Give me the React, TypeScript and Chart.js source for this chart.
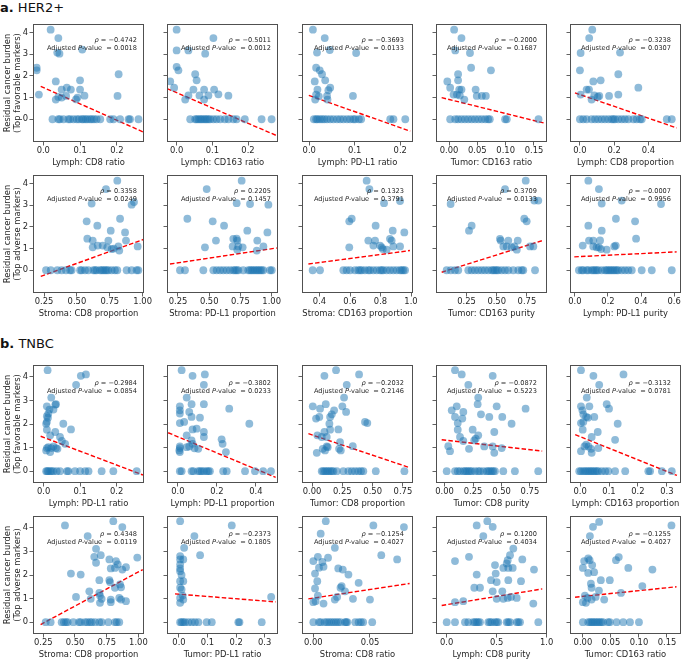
import React, { useEffect, useRef } from "react";
import { Chart, registerables } from "chart.js";

Chart.register(...registerables);

const FONT = "'DejaVu Sans', 'Liberation Sans', sans-serif";
const INK = "#262626";
const FRAME = "#505050";
const DOT = "rgba(31,119,180,0.5)";

// ---------- shared text ----------
const SECTION_A = ["a.", "HER2+"];
const SECTION_B = ["b.", "TNBC"];
const Y_TITLE_FAV = ["Residual cancer burden", "(Top favorable markers)"];
const Y_TITLE_ADV = ["Residual cancer burden", "(Top adverse markers)"];
const Y_TICKS = [0, 1, 2, 3, 4];
const ROW_Y_MIN = [-1.05, -1.05, -0.5, -0.5];
const ROW_Y_MAX = [4.4, 4.4, 4.5, 4.5];

// ---------- row 1 (HER2+, favorable) ----------
const r1c1X = [0.02, 0.041, 0.038, 0.044, 0.106, -0.018, -0.018, 0.034, 0.205, 0.1, -0.012, 0.05, 0.064, 0.075, 0.1, 0.034, 0.041, 0.062, 0.089, 0.093, 0.112, 0.202, 0.05];
const r1c1Y = [4.14, 3.75, 3.08, 3.03, 3.22, 2.38, 2.26, 1.75, 2.08, 1.8, 1.14, 1.37, 1.46, 1.37, 1.37, 0.91, 1.03, 1.08, 0.92, 1.0, 1.09, 1.08, 1.0];
const r1c1Zero = [0.025, 0.041, 0.045, 0.055, 0.068, 0.073, 0.082, 0.091, 0.097, 0.105, 0.109, 0.115, 0.12, 0.127, 0.132, 0.138, 0.145, 0.155, 0.182, 0.191, 0.209, 0.232, 0.236, 0.259];
const r1c1LineX = [-0.007, 0.271];
const r1c1LineY = [1.52, -0.58];
const r1c1Ticks = [0, 0.1, 0.2];
const r1c1TickLabels = ["0.0", "0.1", "0.2"];

const r1c2X = [0.0, 0.0, 0.033, 0.08, 0.103, 0.0, 0.005, 0.052, 0.056, -0.018, -0.007, 0.024, 0.033, 0.047, 0.064, 0.077, 0.089, 0.077, 0.105, 0.117, 0.145];
const r1c2Y = [4.14, 3.18, 3.18, 3.03, 3.75, 2.42, 2.26, 2.08, 1.8, 1.75, 1.46, 0.91, 1.1, 1.37, 1.1, 1.37, 1.1, 0.91, 1.37, 1.15, 1.09];
const r1c2Zero = [0.038, 0.052, 0.056, 0.061, 0.066, 0.07, 0.075, 0.08, 0.084, 0.089, 0.094, 0.103, 0.112, 0.122, 0.135, 0.145, 0.159, 0.168, 0.191, 0.238, 0.266];
const r1c2LineX = [-0.027, 0.278];
const r1c2LineY = [1.42, -0.74];
const r1c2Ticks = [0, 0.1, 0.2];
const r1c2TickLabels = ["0.0", "0.1", "0.2"];

const r1c3X = [0.008, 0.034, 0.017, 0.045, 0.103, 0.015, 0.023, 0.028, 0.035, 0.012, 0.018, 0.046, 0.042, 0.015, 0.021, 0.039, 0.013, 0.04, 0.096];
const r1c3Y = [4.14, 3.75, 3.08, 3.2, 3.06, 2.38, 2.26, 2.08, 1.8, 1.75, 1.37, 1.46, 1.34, 1.14, 1.06, 1.08, 0.91, 0.91, 1.08];
const r1c3Zero = [0.01, 0.015, 0.018, 0.023, 0.028, 0.033, 0.039, 0.046, 0.053, 0.061, 0.068, 0.075, 0.083, 0.09, 0.097, 0.101, 0.109, 0.114, 0.178, 0.185, 0.211];
const r1c3LineX = [-0.001, 0.222];
const r1c3LineY = [1.1, -0.55];
const r1c3Ticks = [0, 0.1, 0.2];
const r1c3TickLabels = ["0.0", "0.1", "0.2"];

const r1c4X = [0.009, 0.022, 0.011, 0.037, 0.039, 0.016, 0.016, -0.003, 0.002, 0.018, 0.022, 0.008, 0.014, 0.027, 0.019, 0.047, 0.049, 0.058, 0.065, 0.074];
const r1c4Y = [4.14, 3.75, 3.18, 3.06, 2.38, 2.08, 1.8, 1.75, 1.46, 1.37, 1.37, 1.14, 1.14, 0.91, 1.1, 1.37, 1.08, 1.08, 1.08, 2.26];
const r1c4Zero = [0.002, 0.011, 0.016, 0.022, 0.028, 0.034, 0.04, 0.046, 0.052, 0.058, 0.064, 0.069, 0.072, 0.099, 0.102, 0.158];
const r1c4LineX = [-0.013, 0.167];
const r1c4LineY = [1.0, -0.17];
const r1c4Ticks = [0, 0.05, 0.1, 0.15];
const r1c4TickLabels = ["0.00", "0.05", "0.10", "0.15"];

const r1c5X = [0.072, 0.054, 0.004, 0.234, 0.0, 0.078, 0.121, 0.224, 0.341, 0.004, 0.039, 0.053, 0.084, 0.104, 0.113, 0.068, 0.17, 0.224];
const r1c5Y = [4.14, 3.75, 3.06, 3.08, 2.26, 1.75, 1.8, 2.08, 1.46, 1.14, 1.37, 1.37, 1.1, 1.03, 1.08, 0.91, 1.08, 1.14];
const r1c5Zero = [0, 0.019, 0.039, 0.068, 0.088, 0.107, 0.127, 0.146, 0.166, 0.185, 0.195, 0.205, 0.224, 0.244, 0.263, 0.283, 0.312, 0.331, 0.351, 0.361, 0.507, 0.536];
const r1c5LineX = [-0.029, 0.565];
const r1c5LineY = [1.22, -0.4];
const r1c5Ticks = [0, 0.2, 0.4];
const r1c5TickLabels = ["0.0", "0.2", "0.4"];

// ---------- row 2 (HER2+, adverse) ----------
const r2c1X = [0.807, 0.721, 0.612, 0.934, 0.916, 0.574, 0.655, 0.828, 0.757, 0.866, 0.579, 0.62, 0.739, 0.873, 0.62, 0.658, 0.696, 0.731, 0.764, 0.815, 0.822, 0.962, 0.78];
const r2c1Y = [4.14, 3.75, 3.08, 3.15, 3.03, 2.26, 2.06, 2.38, 1.83, 1.75, 1.46, 1.37, 1.37, 1.37, 1.06, 1.14, 1.14, 1.06, 0.98, 1.1, 0.91, 1.1, 1.0];
const r2c1Zero = [0.265, 0.301, 0.351, 0.384, 0.417, 0.448, 0.46, 0.524, 0.536, 0.562, 0.587, 0.625, 0.638, 0.65, 0.676, 0.688, 0.701, 0.714, 0.726, 0.739, 0.764, 0.789, 0.807, 0.878, 0.916, 0.954, 0.967];
const r2c1LineX = [0.225, 1.005];
const r2c1LineY = [-0.28, 1.42];
const r2c1Ticks = [0.25, 0.5, 0.75, 1.0];
const r2c1TickLabels = ["0.25", "0.50", "0.75", "1.00"];

const r2c2X = [0.48, 0.325, 0.528, 0.619, 0.554, 0.466, 0.693, 0.725, 0.76, 0.72, 0.827, 0.974, 0.805, 0.966, 0.72, 0.725, 0.885, 0.688, 0.733, 0.768, 0.881, 0.934];
const r2c2Y = [3.75, 2.38, 2.26, 2.06, 1.37, 1.06, 1.45, 0.95, 4.14, 3.1, 3.06, 3.03, 1.83, 1.75, 1.46, 1.37, 1.37, 1.1, 1.1, 1.06, 0.91, 1.1];
const r2c2Zero = [0.266, 0.306, 0.453, 0.533, 0.56, 0.587, 0.613, 0.64, 0.667, 0.693, 0.707, 0.72, 0.733, 0.773, 0.813, 0.827, 0.84, 0.853, 0.867, 0.881, 0.893, 0.907, 0.92, 0.934, 0.987, 1.001];
const r2c2LineX = [0.186, 1.041];
const r2c2LineY = [0.29, 1.03];
const r2c2Ticks = [0.25, 0.5, 0.75, 1.0];
const r2c2TickLabels = ["0.25", "0.50", "0.75", "1.00"];

const r2c3X = [0.709, 0.727, 0.823, 0.928, 0.595, 0.611, 0.768, 0.72, 0.764, 0.88, 0.956, 0.862, 0.873, 0.595, 0.753, 0.797, 0.808, 0.815, 0.884, 0.928, 0.84];
const r2c3Y = [4.14, 3.75, 3.1, 3.2, 2.26, 2.38, 2.06, 1.37, 1.37, 1.83, 1.75, 1.45, 1.37, 1.06, 1.14, 1.14, 1.06, 0.98, 1.1, 1.1, 0.95];
const r2c3Zero = [0.355, 0.403, 0.556, 0.578, 0.6, 0.633, 0.654, 0.666, 0.677, 0.698, 0.72, 0.731, 0.753, 0.775, 0.797, 0.808, 0.818, 0.84, 0.862, 0.884, 0.906, 0.928, 0.939, 0.95, 0.961];
const r2c3LineX = [0.327, 0.993];
const r2c3LineY = [0.29, 0.91];
const r2c3Ticks = [0.4, 0.6, 0.8, 1.0];
const r2c3TickLabels = ["0.4", "0.6", "0.8", "1.0"];

const r2c4X = [0.74, 0.569, 0.811, 0.844, 0.728, 0.748, 0.271, 0.293, 0.527, 0.533, 0.596, 0.674, 0.555, 0.583, 0.624, 0.666, 0.646, 0.776, 0.803, 0.119];
const r2c4Y = [4.14, 3.75, 3.22, 3.22, 2.38, 2.26, 1.83, 2.06, 1.45, 1.37, 1.37, 1.37, 1.1, 1.1, 1.06, 0.95, 1.1, 1.1, 1.1, 3.06];
const r2c4Zero = [0.086, 0.12, 0.155, 0.182, 0.265, 0.293, 0.32, 0.348, 0.376, 0.403, 0.431, 0.459, 0.472, 0.486, 0.5, 0.513, 0.541, 0.569, 0.596, 0.637, 0.679, 0.707, 0.72, 0.817];
const r2c4LineX = [0.045, 0.877];
const r2c4LineY = [-0.09, 1.37];
const r2c4Ticks = [0.25, 0.5, 0.75];
const r2c4TickLabels = ["0.25", "0.50", "0.75"];

const r2c5X = [0.081, 0.145, 0.162, 0.283, 0.521, 0.081, 0.248, 0.364, 0.162, 0.37, 0.085, 0.111, 0.152, 0.111, 0.131, 0.145, 0.158, 0.192, 0.238, 0.247, 0.047];
const r2c5Y = [4.14, 3.75, 3.08, 3.22, 3.06, 2.06, 2.38, 2.26, 1.83, 1.46, 1.37, 1.37, 1.38, 1.1, 1.06, 1.06, 0.98, 0.95, 1.1, 1.14, 1.14];
const r2c5Zero = [0.024, 0.041, 0.05, 0.071, 0.081, 0.101, 0.111, 0.121, 0.131, 0.141, 0.162, 0.182, 0.192, 0.202, 0.212, 0.222, 0.232, 0.242, 0.253, 0.262, 0.283, 0.303, 0.323, 0.344, 0.404, 0.465, 0.586];
const r2c5LineX = [-0.004, 0.616];
const r2c5LineY = [0.62, 0.85];
const r2c5Ticks = [0, 0.2, 0.4, 0.6];
const r2c5TickLabels = ["0.0", "0.2", "0.4", "0.6"];

// ---------- row 3 (TNBC, favorable) ----------
const r3c1X = [0.011, 0.102, 0.116, 0.089, 0.021, 0.009, 0.016, 0.009, 0.012, 0.013, 0.009, 0.007, 0.027, 0.032, 0.034, 0.054, 0.075, 0.009, 0.018, 0.032, 0.045, 0.05, 0.059, 0.009, 0.013, 0.021, 0.027, 0.034, 0.007, 0.018, 0.038];
const r3c1Y = [4.28, 4.04, 4.1, 3.66, 3.12, 2.75, 2.61, 2.33, 2.27, 2.44, 2.09, 2.01, 2.61, 2.82, 2.84, 2.01, 1.77, 1.76, 1.52, 1.66, 1.45, 1.28, 1.16, 0.98, 1.02, 0.98, 1.05, 0.98, 0.88, 0.81, 0.95];
const r3c1Zero = [0.007, 0.01, 0.013, 0.018, 0.022, 0.027, 0.036, 0.045, 0.064, 0.068, 0.086, 0.1, 0.114, 0.123, 0.159, 0.191, 0.255];
const r3c1LineX = [-0.008, 0.272];
const r3c1LineY = [1.48, -0.16];
const r3c1Ticks = [0, 0.1, 0.2];
const r3c1TickLabels = ["0.0", "0.1", "0.2"];

const r3c2X = [0.019, 0.075, 0.138, 0.133, 0.045, 0.01, 0.01, 0.01, 0.058, 0.07, 0.032, 0.01, 0.07, 0.133, 0.113, 0.075, 0.096, 0.133, 0.133, 0.045, 0.07, 0.01, 0.01, 0.045, 0.058, 0.085, 0.104, 0.007, 0.075, 0.01, 0.224, 0.229, 0.246, 0.263, 0.366];
const r3c2Y = [4.28, 4.04, 4.1, 3.66, 3.12, 2.75, 2.58, 2.44, 2.51, 2.3, 2.09, 2.04, 2.84, 2.84, 2.27, 1.77, 1.8, 1.66, 1.45, 1.52, 1.3, 1.05, 0.98, 1.02, 1.05, 0.97, 0.95, 0.88, 1.16, 0.81, 1.35, 1.16, 0.81, 2.65, 2.01];
const r3c2Zero = [0.01, 0.019, 0.07, 0.079, 0.104, 0.113, 0.122, 0.133, 0.147, 0.156, 0.164, 0.232, 0.25, 0.344, 0.395, 0.437, 0.477];
const r3c2LineX = [-0.05, 0.501];
const r3c2LineY = [1.63, -0.26];
const r3c2Ticks = [0, 0.2, 0.4];
const r3c2TickLabels = ["0.0", "0.2", "0.4"];

const r3c3X = [0.102, 0.198, 0.388, 0.286, 0.264, 0.006, 0.066, 0.113, 0.182, 0.281, 0.25, 0.033, 0.06, 0.149, 0.163, 0.437, 0.456, 0.143, 0.149, 0.217, 0.102, 0.044, 0.08, 0.121, 0.231, 0.121, 0.129, 0.088, 0.107, 0.223, 0.237, 0.336, 0.039];
const r3c3Y = [4.04, 4.28, 4.1, 3.66, 3.12, 2.75, 2.65, 2.84, 2.58, 2.51, 2.75, 2.23, 2.3, 2.3, 2.41, 2.09, 2.04, 2.01, 1.76, 1.77, 1.66, 1.52, 1.45, 1.45, 1.23, 1.05, 1.02, 0.95, 0.88, 0.95, 0.88, 1.06, 0.78];
const r3c3Zero = [0.08, 0.093, 0.107, 0.121, 0.134, 0.149, 0.163, 0.176, 0.204, 0.258, 0.3, 0.328, 0.355, 0.382, 0.404, 0.423, 0.526, 0.762];
const r3c3LineX = [-0.03, 0.795];
const r3c3LineY = [1.59, 0.17];
const r3c3Ticks = [0, 0.25, 0.5, 0.75];
const r3c3TickLabels = ["0.00", "0.25", "0.50", "0.75"];

const r3c4X = [0.092, 0.151, 0.423, 0.209, 0.296, 0.712, 0.107, 0.291, 0.092, 0.165, 0.156, 0.32, 0.393, 0.458, 0.507, 0.589, 0.116, 0.116, 0.247, 0.437, 0.296, 0.274, 0.261, 0.136, 0.165, 0.349, 0.423, 0.502, 0.215, 0.437, 0.063, 0.033, 0.048];
const r3c4Y = [4.28, 4.1, 4.04, 3.66, 3.12, 2.65, 2.75, 2.84, 2.3, 2.51, 2.23, 2.41, 2.3, 2.75, 2.3, 2.01, 2.04, 1.76, 1.76, 1.66, 1.52, 1.38, 1.31, 1.45, 1.28, 1.05, 1.05, 0.98, 0.95, 0.78, 2.58, 1.06, 0.85];
const r3c4Zero = [0.019, 0.092, 0.116, 0.136, 0.165, 0.18, 0.195, 0.209, 0.224, 0.239, 0.268, 0.296, 0.311, 0.34, 0.37, 0.384, 0.399, 0.414, 0.428, 0.443, 0.516, 0.618, 0.823];
const r3c4LineX = [-0.025, 0.858];
const r3c4LineY = [1.33, 0.85];
const r3c4Ticks = [0, 0.25, 0.5, 0.75];
const r3c4TickLabels = ["0.00", "0.25", "0.50", "0.75"];

const r3c5X = [0.003, 0.046, 0.15, 0.066, 0.023, 0.003, 0.008, 0.032, 0.011, 0.021, 0.027, 0.049, 0.092, 0.1, 0.003, 0.011, 0.009, 0.061, 0.13, 0.04, 0.121, 0.029, 0.015, 0.003, 0.038, 0.04, 0.063, 0.021];
const r3c5Y = [4.28, 4.04, 4.1, 3.66, 3.12, 2.75, 2.58, 2.75, 2.41, 2.3, 2.27, 2.3, 2.84, 2.65, 2.04, 2.09, 1.76, 1.66, 2.01, 1.45, 1.33, 1.05, 1.05, 0.85, 0.95, 0.78, 0.98, 1.13];
const r3c5Zero = [-0.003, 0.003, 0.011, 0.017, 0.023, 0.029, 0.035, 0.04, 0.046, 0.052, 0.058, 0.063, 0.075, 0.087, 0.098, 0.121, 0.156, 0.236, 0.242, 0.283, 0.317];
const r3c5LineX = [-0.017, 0.335];
const r3c5LineY = [1.55, -0.18];
const r3c5Ticks = [0, 0.1, 0.2, 0.3];
const r3c5TickLabels = ["0.0", "0.1", "0.2", "0.3"];

// ---------- row 4 (TNBC, adverse) ----------
const r4c1X = [0.421, 0.802, 0.873, 0.6, 0.666, 0.652, 0.666, 0.703, 0.771, 0.823, 0.837, 0.991, 0.782, 0.815, 0.873, 0.902, 0.468, 0.545, 0.771, 0.776, 0.692, 0.855, 0.863, 0.815, 0.613, 0.508, 0.692, 0.697, 0.71, 0.624, 0.782, 0.849, 0.863, 0.902, 0.782, 0.697];
const r4c1Y = [4.1, 4.28, 4.03, 3.65, 3.11, 2.77, 2.52, 2.84, 2.66, 2.59, 2.45, 2.74, 2.28, 2.3, 2.23, 2.33, 2.06, 2.02, 1.78, 1.7, 1.78, 1.6, 1.48, 1.46, 1.31, 1.07, 1.24, 1.13, 0.99, 0.99, 0.96, 1.03, 0.96, 0.89, 0.85, 0.82];
const r4c1Zero = [0.269, 0.308, 0.395, 0.413, 0.429, 0.442, 0.487, 0.532, 0.545, 0.579, 0.597, 0.618, 0.632, 0.658, 0.692, 0.711, 0.763, 0.815, 0.829, 0.849];
const r4c1LineX = [0.229, 1.034];
const r4c1LineY = [-0.1, 2.23];
const r4c1Ticks = [0.25, 0.5, 0.75, 1.0];
const r4c1TickLabels = ["0.25", "0.50", "0.75", "1.00"];

const r4c2X = [0.004, 0.018, 0.054, 0.185, 0.004, 0.004, 0.004, 0.004, 0.004, 0.015, 0.004, 0.015, 0.004, 0.009, 0.004, 0.013, 0.015, 0.004, 0.074, 0.323, 0.009];
const r4c2Y = [4.28, 3.15, 3.65, 4.1, 2.8, 2.66, 2.45, 2.28, 2.16, 2.66, 1.74, 1.74, 1.46, 1.39, 1.03, 1.13, 0.96, 0.82, 2.84, 1.07, 2.0];
const r4c2Zero = [0.004, 0.009, 0.015, 0.021, 0.033, 0.045, 0.056, 0.068, 0.097, 0.115, 0.208, 0.212, 0.29];
const r4c2LineX = [-0.014, 0.339];
const r4c2LineY = [1.2, 0.86];
const r4c2Ticks = [0, 0.1, 0.2, 0.3];
const r4c2TickLabels = ["0.0", "0.1", "0.2", "0.3"];

const r4c3X = [0.011, 0.0065, 0.053, 0.08, 0.019, 0.06, 0.074, 0.0, 0.004, 0.008, 0.009, 0.013, 0.005, 0.0015, 0.0035, 0.0015, 0.022, 0.026, 0.031, 0.024, 0.025, 0.028, 0.04, 0.004, 0.0, 0.002, 0.009, 0.019, 0.021, 0.035, 0.05];
const r4c3Y = [4.28, 3.75, 4.1, 4.03, 3.15, 2.84, 2.66, 2.59, 2.77, 2.55, 2.35, 2.73, 2.31, 2.06, 1.74, 1.43, 2.28, 2.23, 2.02, 1.46, 1.53, 1.31, 1.67, 1.13, 0.85, 0.89, 0.79, 0.96, 1.07, 0.99, 0.96];
const r4c3Zero = [0, 0.005, 0.0065, 0.01, 0.012, 0.014, 0.016, 0.018, 0.02, 0.022, 0.024, 0.028, 0.029, 0.03, 0.037, 0.04, 0.042, 0.044, 0.052];
const r4c3LineX = [-0.0044, 0.085];
const r4c3LineY = [0.99, 1.64];
const r4c3Ticks = [0, 0.05];
const r4c3TickLabels = ["0.00", "0.05"];

const r4c4X = [0.3, 0.406, 0.46, 0.366, 0.223, 0.483, 0.566, 0.6, 0.61, 0.633, 0.666, 0.616, 0.66, 0.756, 0.873, 0.49, 0.3, 0.443, 0.5, 0.616, 0.743, 0.276, 0.333, 0.46, 0.556, 0.5, 0.566, 0.61, 0.643, 0.7, 0.866, 0.083, 0.166, 0.083];
const r4c4Y = [4.1, 4.28, 4.04, 3.65, 2.77, 2.42, 2.3, 2.49, 2.63, 2.84, 3.12, 2.3, 2.3, 2.66, 2.23, 2.06, 2.02, 1.78, 1.7, 1.78, 1.74, 1.46, 1.46, 1.31, 1.31, 0.99, 0.99, 1.03, 1.07, 1.03, 0.79, 2.59, 0.89, 0.85];
const r4c4Zero = [0.0, 0.083, 0.183, 0.216, 0.266, 0.283, 0.3, 0.316, 0.333, 0.416, 0.433, 0.45, 0.483, 0.5, 0.516, 0.6, 0.616, 0.633, 0.7, 0.716, 0.733, 0.916];
const r4c4LineX = [-0.05, 0.956];
const r4c4LineY = [0.71, 1.41];
const r4c4Ticks = [0, 0.5, 1.0];
const r4c4TickLabels = ["0.0", "0.5", "1.0"];

const r4c5X = [0.029, 0.018, 0.0125, 0.158, 0.0, 0.0023, 0.0095, 0.012, 0.0095, 0.0166, 0.02, 0.064, 0.059, 0.081, 0.124, 0.032, 0.048, 0.0143, 0.0155, 0.0286, 0.106, 0.0036, 0.0084, 0.0227, 0.038, 0.068, 0.0, 0.0054, 0.0155];
const r4c5Y = [4.25, 4.04, 3.65, 4.1, 2.3, 2.59, 2.7, 2.63, 2.09, 2.42, 2.12, 2.76, 2.63, 2.3, 2.23, 1.78, 1.78, 1.63, 1.46, 1.34, 1.53, 1.13, 1.03, 1.07, 0.96, 1.24, 0.85, 0.82, 0.96];
const r4c5Zero = [0, 0.0095, 0.0125, 0.0155, 0.018, 0.021, 0.024, 0.027, 0.03, 0.033, 0.036, 0.045, 0.048, 0.06, 0.072, 0.084, 0.1];
const r4c5LineX = [-0.014, 0.167];
const r4c5LineY = [1.06, 1.5];
const r4c5Ticks = [0, 0.05, 0.1, 0.15];
const r4c5TickLabels = ["0.00", "0.05", "0.10", "0.15"];

// ---------- per-panel axis text / stats ----------
const X_LABELS = [
  ["Lymph: CD8 ratio", "Lymph: CD163 ratio", "Lymph: PD-L1 ratio", "Tumor: CD163 ratio", "Lymph: CD8 proportion"],
  ["Stroma: CD8 proportion", "Stroma: PD-L1 proportion", "Stroma: CD163 proportion", "Tumor: CD163 purity", "Lymph: PD-L1 purity"],
  ["Lymph: PD-L1 ratio", "Lymph: PD-L1 proportion", "Tumor: CD8 proportion", "Tumor: CD8 purity", "Lymph: CD163 proportion"],
  ["Stroma: CD8 proportion", "Tumor: PD-L1 ratio", "Stroma: CD8 ratio", "Lymph: CD8 purity", "Tumor: CD163 ratio"],
];
const RHO = [
  ["−0.4742", "−0.5011", "−0.3693", "−0.2000", "−0.3238"],
  ["0.3358", "0.2205", "0.1323", "0.3709", "−0.0007"],
  ["−0.2984", "−0.3802", "−0.2032", "−0.0872", "−0.3132"],
  ["0.4348", "−0.2373", "−0.1254", "0.1200", "−0.1255"],
];
const PVAL = [
  ["0.0018", "0.0012", "0.0133", "0.1687", "0.0307"],
  ["0.0249", "0.1457", "0.3791", "0.0133", "0.9956"],
  ["0.0854", "0.0233", "0.2146", "0.5223", "0.0781"],
  ["0.0119", "0.1805", "0.4027", "0.4034", "0.4027"],
];
const X_MIN = [
  [-0.028, -0.027, -0.016, -0.023, -0.058],
  [0.166, 0.162, 0.285, -0.002, -0.03],
  [-0.029, -0.056, -0.083, -0.075, -0.035],
  [0.169, -0.042, -0.01, -0.107, -0.023],
];
const X_MAX = [
  [0.274, 0.284, 0.228, 0.173, 0.59],
  [1.01, 1.051, 1.013, 0.916, 0.642],
  [0.275, 0.513, 0.833, 0.9, 0.349],
  [1.044, 0.347, 0.088, 1.003, 0.175],
];

const SERIES = [
  [
    [r1c1X, r1c1Y, r1c1Zero, r1c1LineX, r1c1LineY, r1c1Ticks, r1c1TickLabels],
    [r1c2X, r1c2Y, r1c2Zero, r1c2LineX, r1c2LineY, r1c2Ticks, r1c2TickLabels],
    [r1c3X, r1c3Y, r1c3Zero, r1c3LineX, r1c3LineY, r1c3Ticks, r1c3TickLabels],
    [r1c4X, r1c4Y, r1c4Zero, r1c4LineX, r1c4LineY, r1c4Ticks, r1c4TickLabels],
    [r1c5X, r1c5Y, r1c5Zero, r1c5LineX, r1c5LineY, r1c5Ticks, r1c5TickLabels],
  ],
  [
    [r2c1X, r2c1Y, r2c1Zero, r2c1LineX, r2c1LineY, r2c1Ticks, r2c1TickLabels],
    [r2c2X, r2c2Y, r2c2Zero, r2c2LineX, r2c2LineY, r2c2Ticks, r2c2TickLabels],
    [r2c3X, r2c3Y, r2c3Zero, r2c3LineX, r2c3LineY, r2c3Ticks, r2c3TickLabels],
    [r2c4X, r2c4Y, r2c4Zero, r2c4LineX, r2c4LineY, r2c4Ticks, r2c4TickLabels],
    [r2c5X, r2c5Y, r2c5Zero, r2c5LineX, r2c5LineY, r2c5Ticks, r2c5TickLabels],
  ],
  [
    [r3c1X, r3c1Y, r3c1Zero, r3c1LineX, r3c1LineY, r3c1Ticks, r3c1TickLabels],
    [r3c2X, r3c2Y, r3c2Zero, r3c2LineX, r3c2LineY, r3c2Ticks, r3c2TickLabels],
    [r3c3X, r3c3Y, r3c3Zero, r3c3LineX, r3c3LineY, r3c3Ticks, r3c3TickLabels],
    [r3c4X, r3c4Y, r3c4Zero, r3c4LineX, r3c4LineY, r3c4Ticks, r3c4TickLabels],
    [r3c5X, r3c5Y, r3c5Zero, r3c5LineX, r3c5LineY, r3c5Ticks, r3c5TickLabels],
  ],
  [
    [r4c1X, r4c1Y, r4c1Zero, r4c1LineX, r4c1LineY, r4c1Ticks, r4c1TickLabels],
    [r4c2X, r4c2Y, r4c2Zero, r4c2LineX, r4c2LineY, r4c2Ticks, r4c2TickLabels],
    [r4c3X, r4c3Y, r4c3Zero, r4c3LineX, r4c3LineY, r4c3Ticks, r4c3TickLabels],
    [r4c4X, r4c4Y, r4c4Zero, r4c4LineX, r4c4LineY, r4c4Ticks, r4c4TickLabels],
    [r4c5X, r4c5Y, r4c5Zero, r4c5LineX, r4c5LineY, r4c5Ticks, r4c5TickLabels],
  ],
];

// ---------- layout ----------
const COL_LEFT = [33, 167, 302, 436, 570];
const ROW_TOP = [24, 175, 365, 516];
const BOX_W = 111;
const BOX_H = 118;
const ANNOT_RIGHT = [7, 7, 9, 10, 10];
const ANNOT_TOP = [16.5, 16.5, 18, 18];
const TICK_SIZE = 8.4;
const LABEL_SIZE = 8.4;
const ANNOT_SIZE = 6.6;

type Seg = { t: string; it?: boolean };

function drawRich(ctx: CanvasRenderingContext2D, segs: Seg[], right: number, y: number, size: number) {
  const fonts = segs.map((s) => `${s.it ? "italic " : ""}${size}px ${FONT}`);
  const widths: number[] = [];
  let total = 0;
  segs.forEach((s, i) => {
    ctx.font = fonts[i];
    const w = ctx.measureText(s.t).width;
    widths.push(w);
    total += w;
  });
  let x = right - total;
  segs.forEach((s, i) => {
    ctx.font = fonts[i];
    ctx.fillText(s.t, x, y);
    x += widths[i];
  });
}

function Panel({ row, col }: { row: number; col: number }) {
  const ref = useRef<HTMLCanvasElement>(null);
  const first = col === 0;
  const padL = first ? 0 : 14;
  const yW = first ? 33 : 5;
  const padR = 14;
  const padT = 10;
  const xH = 28;
  const W = padL + yW + BOX_W + padR;
  const H = padT + BOX_H + xH;
  const left = COL_LEFT[col] - yW - padL;
  const top = ROW_TOP[row] - padT;

  useEffect(() => {
    const [xs, ys, zeros, lx, ly, ticks, tickLabels] = SERIES[row][col] as any[];
    const pts = (xs as number[]).map((x, i) => ({ x, y: ys[i] }));
    (zeros as number[]).forEach((x) => pts.push({ x, y: 0 }));
    const line = (lx as number[]).map((x, i) => ({ x, y: ly[i] }));
    const yTitle = row % 2 === 0 ? Y_TITLE_FAV : Y_TITLE_ADV;

    const framePlugin = {
      id: "frame",
      afterDraw(chart: any) {
        const { ctx, chartArea: a } = chart;
        ctx.save();
        ctx.strokeStyle = FRAME;
        ctx.lineWidth = 1;
        ctx.strokeRect(Math.round(a.left) + 0.5, Math.round(a.top) + 0.5, Math.round(a.right - a.left) - 1, Math.round(a.bottom - a.top) - 1);
        ctx.fillStyle = INK;
        ctx.textBaseline = "middle";
        const r = a.right - ANNOT_RIGHT[col];
        const y1 = a.top + ANNOT_TOP[row];
        drawRich(ctx, [{ t: "ρ", it: true }, { t: " = " + RHO[row][col] }], r, y1, ANNOT_SIZE);
        drawRich(ctx, [{ t: "Adjusted " }, { t: "P", it: true }, { t: "-value  = " + PVAL[row][col] }], r, y1 + 8.2, ANNOT_SIZE);
        ctx.restore();
      },
    };

    const chart = new Chart(ref.current as HTMLCanvasElement, {
      type: "scatter",
      data: {
        datasets: [
          {
            data: pts,
            backgroundColor: DOT,
            borderWidth: 0,
            pointRadius: 3.9,
            pointHoverRadius: 3.9,
            clip: 0,
          } as any,
          {
            data: line,
            showLine: true,
            borderColor: "#ff0000",
            borderWidth: 1.4,
            borderDash: [4.5, 2.2],
            pointRadius: 0,
            pointHoverRadius: 0,
            fill: false,
            clip: 0,
          } as any,
        ],
      },
      options: {
        animation: false,
        responsive: false,
        maintainAspectRatio: false,
        events: [],
        layout: { padding: { left: padL, right: padR, top: padT, bottom: 0 }, autoPadding: false } as any,
        plugins: { legend: { display: false }, tooltip: { enabled: false } },
        scales: {
          x: {
            type: "linear",
            min: X_MIN[row][col],
            max: X_MAX[row][col],
            afterBuildTicks: (s: any) => {
              s.ticks = (ticks as number[]).map((v) => ({ value: v }));
            },
            afterFit: (s: any) => {
              s.height = xH;
            },
            grid: { display: true, drawOnChartArea: false, drawTicks: true, tickLength: 3.5, color: FRAME, lineWidth: 0.9 },
            border: { display: false },
            ticks: {
              autoSkip: false,
              maxRotation: 0,
              minRotation: 0,
              padding: 0,
              color: INK,
              font: { family: FONT, size: TICK_SIZE },
              callback: (_v: any, i: number) => (tickLabels as string[])[i],
            },
            title: {
              display: true,
              text: X_LABELS[row][col],
              color: INK,
              font: { family: FONT, size: LABEL_SIZE },
              padding: { top: 0, bottom: 2 },
            },
          } as any,
          y: {
            type: "linear",
            min: ROW_Y_MIN[row],
            max: ROW_Y_MAX[row],
            afterBuildTicks: (s: any) => {
              s.ticks = Y_TICKS.map((v) => ({ value: v }));
            },
            afterFit: (s: any) => {
              s.width = yW;
            },
            grid: { display: true, drawOnChartArea: false, drawTicks: true, tickLength: 3.5, color: FRAME, lineWidth: 0.9 },
            border: { display: false },
            ticks: {
              display: first,
              padding: 1.5,
              color: INK,
              font: { family: FONT, size: TICK_SIZE },
              callback: (v: any) => String(v),
            },
            title: {
              display: first,
              text: yTitle,
              color: INK,
              font: { family: FONT, size: LABEL_SIZE, lineHeight: 1.2 },
              padding: { top: 2.3, bottom: 0 },
            },
          } as any,
        },
      },
      plugins: [framePlugin],
    });
    return () => chart.destroy();
  }, [row, col]);

  return (
    <canvas
      ref={ref}
      width={W}
      height={H}
      style={{ position: "absolute", left, top, width: W, height: H }}
    />
  );
}

function Heading({ parts, top }: { parts: string[]; top: number }) {
  return (
    <div
      style={{
        position: "absolute",
        left: 0,
        top,
        fontFamily: FONT,
        fontSize: 13,
        lineHeight: "13px",
        color: "#111",
        whiteSpace: "nowrap",
      }}
    >
      <span style={{ fontWeight: "bold" }}>{parts[0]}</span> {parts[1]}
    </div>
  );
}

export default function App() {
  const cells: React.ReactNode[] = [];
  for (let r = 0; r < 4; r++) {
    for (let c = 0; c < 5; c++) {
      cells.push(<Panel key={`${r}-${c}`} row={r} col={c} />);
    }
  }
  return (
    <div
      style={{
        position: "absolute",
        left: 0,
        top: 0,
        width: 685,
        height: 659,
        background: "#ffffff",
        overflow: "hidden",
      }}
    >
      <Heading parts={SECTION_A} top={1} />
      <Heading parts={SECTION_B} top={337} />
      {cells}
    </div>
  );
}
